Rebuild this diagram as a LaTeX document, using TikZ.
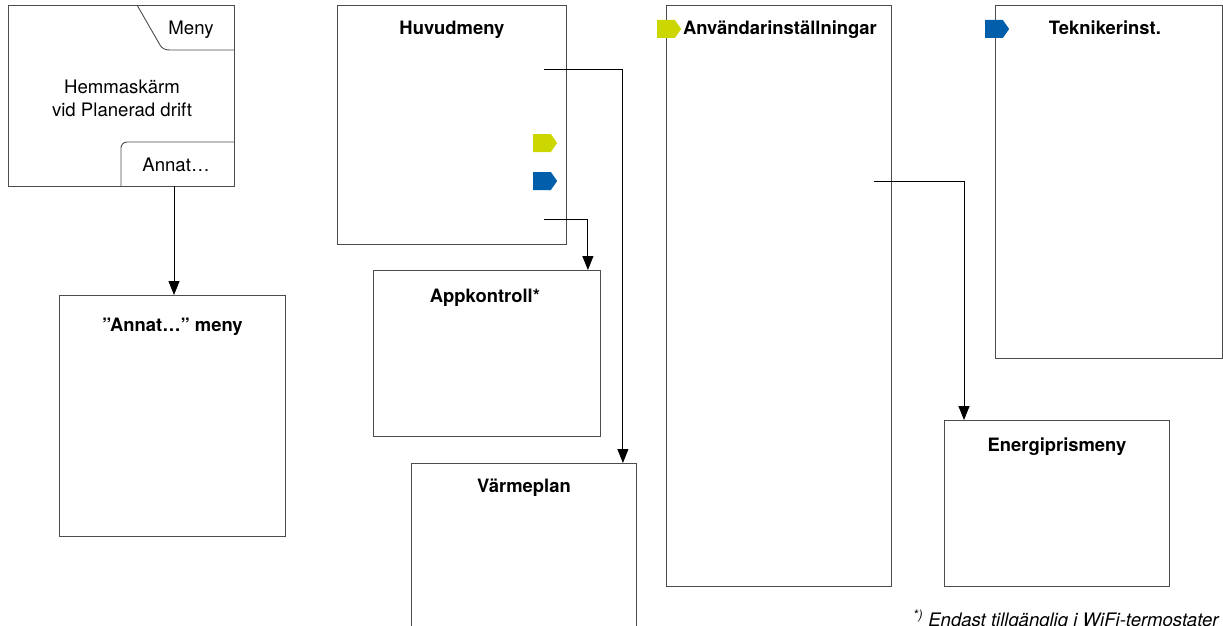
\documentclass[tikz,border=0pt]{standalone}
\usepackage{fontspec}
\setmainfont{TeX Gyre Heros}
\usetikzlibrary{arrows.meta,calc,shapes.symbols}
\definecolor{tagyellow}{HTML}{CCD600}
\definecolor{tagblue}{HTML}{005EAB}
\tikzset{
  box/.style={draw=black!70, line width=0.9pt, anchor=north west, inner sep=0pt},
  title/.style={anchor=base, font=\bfseries\fontsize{18.4}{21}\selectfont, inner sep=0pt},
  plain/.style={font=\fontsize{18.6}{23}\selectfont, inner sep=0pt},
  conn/.style={draw=black, line width=0.9pt, -{Triangle[width=11pt,length=14pt]}},
  tagbox/.style={signal, signal to=east, signal pointer angle=110, inner sep=0pt,
    minimum width=24pt, minimum height=18pt}
}
\begin{document}
\begin{tikzpicture}[x=1pt,y=-1pt]
\useasboundingbox (0,0) rectangle (1223,626);
\clip (0,0) rectangle (1223,626);
%%% home screen %%%%
\node[box, minimum width=226pt, minimum height=181pt] (home) at (8,5) {};
\draw[black!70, line width=0.9pt] (137,5) -- (160,45) to[out=-60,in=180] (170,50) -- (234,50);
\draw[black!70, line width=0.9pt] (121,186) -- (121,148) to[out=90,in=180] (127,142) -- (234,142);
\node[plain, align=center] (hometext) at (122,98) {Hemmaskärm\\vid Planerad drift};
\node[plain, anchor=base] (meny) at (191,35) {Meny};
\node[plain, anchor=base] (annat) at (176,171) {Annat…};

%%% boxes %%%%
\node[box, minimum width=226pt, minimum height=241pt] (annatmeny) at (59,295) {};
\node[box, minimum width=229pt, minimum height=239pt] (huvud) at (337,5) {};
\node[box, minimum width=227pt, minimum height=166pt] (app) at (373,270) {};
\node[box, minimum width=225pt, minimum height=200pt] (varme) at (411,463) {};
\node[box, minimum width=225pt, minimum height=581pt] (anv) at (666,5) {};
\node[box, minimum width=225pt, minimum height=166pt] (energi) at (944,420) {};
\node[box, minimum width=227pt, minimum height=353pt] (tekn) at (995,5) {};

%% labels
\node[title] at ($(annatmeny.north)+(0,36)$) {”Annat…” meny};
\node[title] at ($(huvud.north)+(0,30)$) {Huvudmeny};
\node[title] at ($(app.north)+(-2,32)$) {Appkontroll*};
\node[title] at ($(varme.north)+(0,29)$) {Värmeplan};
\node[title] at ($(anv.north)+(1,30)$) {Användarinställningar};
\node[title] at ($(energi.north)+(0,31)$) {Energiprismeny};
\node[title] at ($(tekn.north)+(-4,30)$) {Teknikerinst.};

%% tags
\node[tagbox, fill=tagyellow] (tagA) at (542,143) {};
\node[tagbox, fill=tagblue] (tagB) at (542,181) {};
\node[tagbox, fill=tagyellow] (tagC) at (666,29) {};
\node[tagbox, fill=tagblue] (tagD) at (994,29) {};

%% edges
\coordinate (hv1) at (544,69);
\coordinate (hv2) at (544,219);
\coordinate (av1) at (874,181);
\draw[conn] (174,186) -- (annatmeny.north -| 174,0);
\draw[conn] (hv1) -| ($(varme.north east)+(-14,0)$);
\draw[conn] (hv2) -| ($(app.north east)+(-13,0)$);
\draw[conn] (av1) -| ($(energi.north west)+(20,0)$);

%% footnote
\node[anchor=base west, inner sep=0pt, font=\itshape\fontsize{18.6}{21}\selectfont] (note) at (913,626)
  {\textsuperscript{*)} Endast tillgänglig i WiFi-termostater};
\end{tikzpicture}
\end{document}
